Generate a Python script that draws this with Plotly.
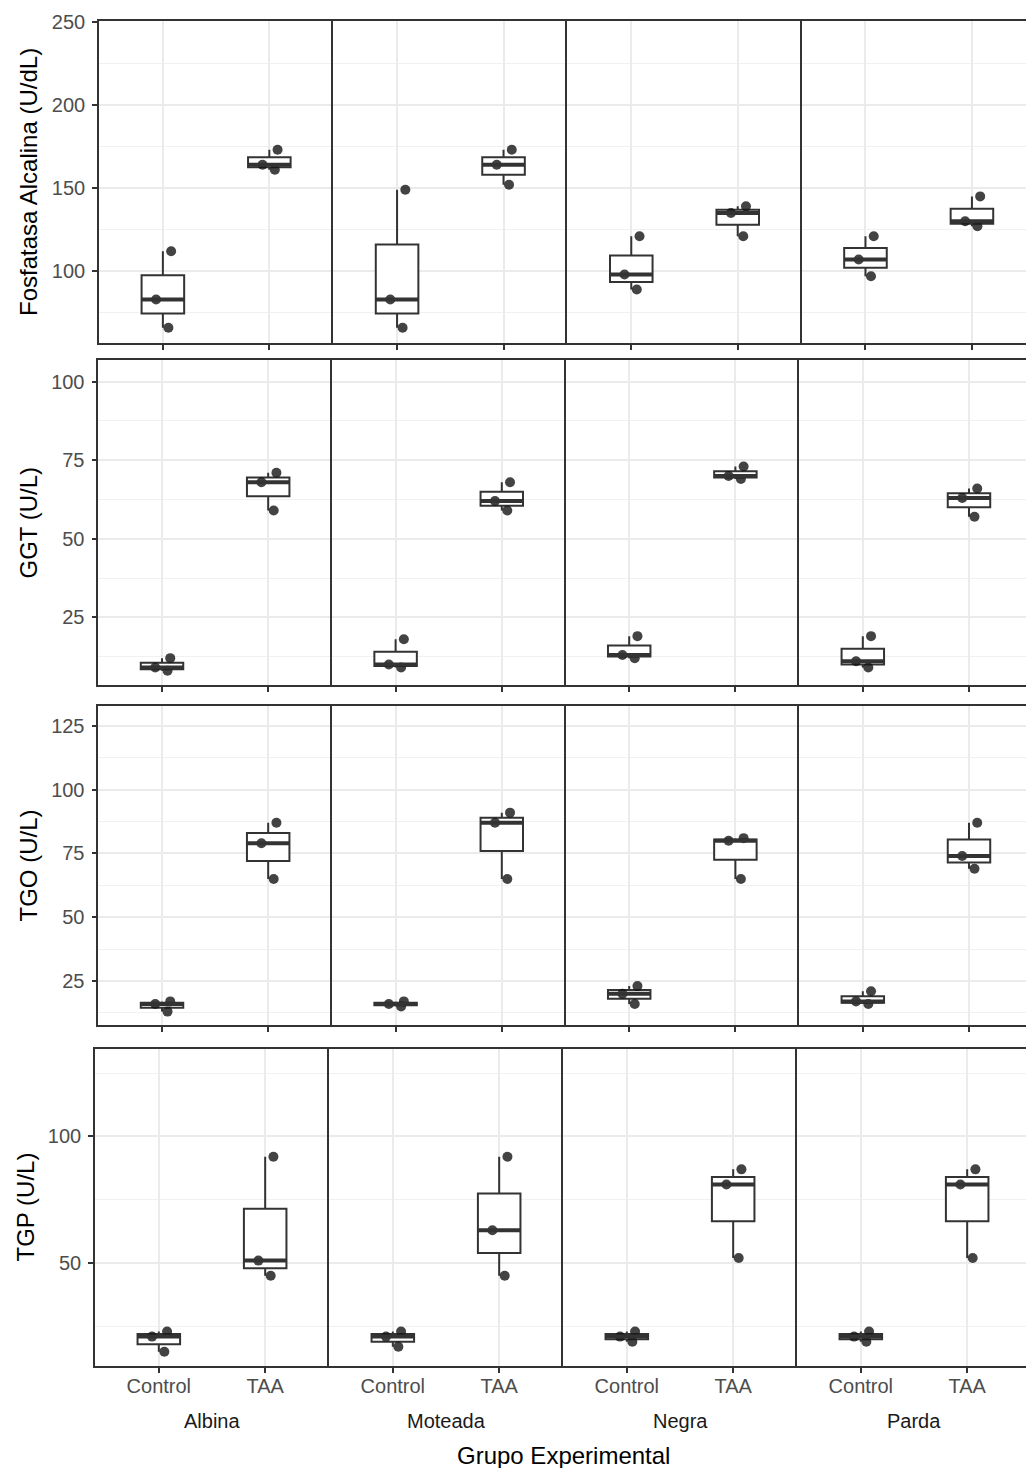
import numpy as np
import plotly.graph_objects as go

# ---------------- data ----------------
groups = ["Albina", "Moteada", "Negra", "Parda"]
treatments = ["Control", "TAA"]

# three animals per group and treatment
fa_control = [[66, 83, 112], [66, 83, 149], [89, 98, 121], [97, 107, 121]]
fa_taa = [[161, 164, 173], [152, 164, 173], [121, 135, 139], [127, 130, 145]]
ggt_control = [[8, 9, 12], [9, 10, 18], [12, 13, 19], [9, 11, 19]]
ggt_taa = [[59, 68, 71], [59, 62, 68], [69, 70, 73], [57, 63, 66]]
tgo_control = [[13, 16, 17], [15, 16, 17], [16, 20, 23], [16, 17, 21]]
tgo_taa = [[65, 79, 87], [65, 87, 91], [65, 80, 81], [69, 74, 87]]
tgp_control = [[15, 21, 23], [17, 21, 23], [19, 21, 23], [19, 21, 23]]
tgp_taa = [[45, 51, 92], [45, 63, 92], [52, 81, 87], [52, 81, 87]]

y_titles = ["Fosfatasa Alcalina (U/dL)", "GGT (U/L)", "TGO (U/L)", "TGP (U/L)"]
x_title = "Grupo Experimental"

variables = [
    (fa_control, fa_taa),
    (ggt_control, ggt_taa),
    (tgo_control, tgo_taa),
    (tgp_control, tgp_taa),
]

# ---------------- layout geometry (pixels) ----------------
W, H = 1026, 1468
rows_px = [(21, 343), (360, 685), (706, 1025), (1049, 1366)]
cols_px = [(99, 234.2), (98.3, 233.6), (98.3, 233.6), (95, 234.0)]  # left, panel width
y_ranges = [[56.8, 250.5], [3.45, 106.9], [7.75, 132.8], [9.4, 134.5]]
y_dticks = [50, 25, 25, 50]
ytitle_x = [28, 28, 28, 25]

FONT = "Liberation Sans, Arial, sans-serif"
AX = "#333333"
GRID = "#EBEBEB"
BOX_W = 0.4

fig = go.Figure()
layout = dict(
    width=W, height=H,
    margin=dict(l=0, r=0, t=0, b=0, pad=0, autoexpand=False),
    paper_bgcolor="white", plot_bgcolor="white",
    showlegend=False,
    font=dict(family=FONT, size=20, color="#4D4D4D"),
)
annotations = []

for r in range(4):
    top, bot = rows_px[r]
    left, w = cols_px[r]
    for c in range(4):
        idx = r * 4 + c + 1
        xs = "x" if idx == 1 else f"x{idx}"
        ys = "y" if idx == 1 else f"y{idx}"
        x0 = left + c * w
        x1 = min(x0 + w, W)
        xr = [0.4, 0.4 + 2.2 * (x1 - x0) / w]

        layout[f"xaxis{idx}"] = dict(
            domain=[x0 / W, x1 / W], range=xr, anchor=ys,
            tickmode="array", tickvals=[1, 2], ticktext=treatments,
            showgrid=True, gridcolor=GRID, gridwidth=2, zeroline=False,
            showline=True, linecolor=AX, linewidth=1.6, mirror=True,
            ticks="outside", ticklen=5, tickwidth=1.6, tickcolor=AX,
            showticklabels=(r == 3), automargin=False, ticklabelstandoff=-4,
            tickfont=dict(size=20, color="#4D4D4D", family=FONT),
            fixedrange=True,
        )
        layout[f"yaxis{idx}"] = dict(
            domain=[1 - bot / H, 1 - top / H], range=y_ranges[r], anchor=xs,
            tick0=0, dtick=y_dticks[r],
            showgrid=True, gridcolor=GRID, gridwidth=2, zeroline=False,
            minor=dict(tick0=0, dtick=y_dticks[r] / 2, showgrid=True,
                       gridcolor="#F1F1F1", gridwidth=1.3),
            showline=True, linecolor=AX, linewidth=1.6, mirror=False,
            ticks="outside" if c == 0 else "", ticklen=5, tickwidth=1.6, tickcolor=AX,
            ticklabelstandoff=3, automargin=False,
            showticklabels=(c == 0),
            tickfont=dict(size=20, color="#4D4D4D", family=FONT),
            fixedrange=True,
        )

        for t in range(2):
            vals = variables[r][t][c]
            pos = t + 1
            xpos = [pos] * len(vals)
            # box
            fig.add_trace(go.Box(
                x=xpos, y=vals, xaxis=xs, yaxis=ys, width=BOX_W,
                boxpoints=False, quartilemethod="inclusive", whiskerwidth=0,
                fillcolor="white", line=dict(color=AX, width=2),
                hoverinfo="skip",
            ))
            # thick median line
            med = float(np.median(vals))
            fig.add_trace(go.Scatter(
                x=[pos - BOX_W / 2, pos + BOX_W / 2], y=[med, med],
                xaxis=xs, yaxis=ys, mode="lines",
                line=dict(color=AX, width=4), hoverinfo="skip",
            ))
            # jittered points
            fig.add_trace(go.Box(
                x=xpos, y=vals, xaxis=xs, yaxis=ys, width=BOX_W,
                boxpoints="all", jitter=0.5, pointpos=0,
                quartilemethod="inclusive",
                fillcolor="rgba(0,0,0,0)", line=dict(color="rgba(0,0,0,0)", width=0),
                marker=dict(color="rgba(20,20,20,0.8)", size=10),
                hoverinfo="y",
            ))

    # y-axis title
    annotations.append(dict(
        text=y_titles[r], x=ytitle_x[r] / W, y=1 - ((top + bot) / 2) / H,
        xref="paper", yref="paper", xanchor="center", yanchor="middle",
        textangle=-90, showarrow=False,
        font=dict(size=24, color="black", family=FONT),
    ))

# facet labels (bottom strips)
top, bot = rows_px[3]
left, w = cols_px[3]
for c, g in enumerate(groups):
    cx = left + c * w + w / 2
    annotations.append(dict(
        text=g, x=cx / W, y=1 - 1421 / H, xref="paper", yref="paper",
        xanchor="center", yanchor="middle", showarrow=False,
        font=dict(size=20, color="#1A1A1A", family=FONT),
    ))

annotations.append(dict(
    text=x_title, x=(left + 2 * w) / W, y=1 - 1455 / H, xref="paper", yref="paper",
    xanchor="center", yanchor="middle", showarrow=False,
    font=dict(size=24, color="black", family=FONT),
))

layout["annotations"] = annotations
fig.update_layout(**layout)

post = (
    "document.documentElement.style.margin='0';"
    "document.documentElement.style.overflow='hidden';"
    "document.body.style.margin='0';"
    "document.body.style.overflow='hidden';"
)
fig.write_html("out.html", post_script=post, config={"displayModeBar": False})
